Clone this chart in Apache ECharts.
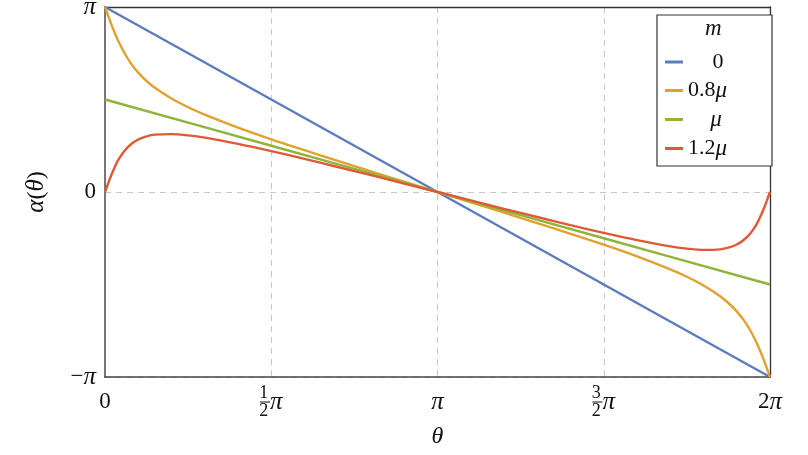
<!DOCTYPE html>
<html>
<head>
<meta charset="utf-8">
<script src="https://cdn.jsdelivr.net/npm/echarts@6/dist/echarts.min.js"></script>
<style>html,body{margin:0;padding:0;background:#fff}#c{width:808px;height:455px}</style>
</head>
<body>
<div id="c"></div>
<script>
// theta in units of pi, alpha in units of pi
const thetaCurve = [0,0.01,0.02,0.03,0.04,0.06,0.08,0.1,0.125,0.15,0.2,0.25,0.3,0.4,0.5,0.6,0.7,0.8,0.9,1,
  1.1,1.2,1.3,1.4,1.5,1.6,1.7,1.75,1.8,1.85,1.875,1.9,1.92,1.94,1.96,1.97,1.98,1.99,2];
const alpha08 = [1,0.950,0.902,0.857,0.816,0.746,0.690,0.645,0.600,0.563,0.505,0.458,0.418,0.348,0.285,0.226,0.168,0.111,0.056,0,
  -0.056,-0.111,-0.168,-0.226,-0.285,-0.348,-0.418,-0.458,-0.505,-0.563,-0.600,-0.645,-0.690,-0.746,-0.816,-0.857,-0.902,-0.950,-1];
const alpha12 = [0,0.049,0.096,0.137,0.173,0.226,0.261,0.284,0.301,0.310,0.313,0.306,0.294,0.260,0.221,0.179,0.135,0.091,0.045,0,
  -0.045,-0.091,-0.135,-0.179,-0.221,-0.260,-0.294,-0.306,-0.313,-0.310,-0.301,-0.284,-0.261,-0.226,-0.173,-0.137,-0.096,-0.049,0];
const thetaLine = [0,0.5,1,1.5,2];
const alpha0 = [1,0.5,0,-0.5,-1];
const alpha10 = [0.5,0.25,0,-0.25,-0.5];
const seriesNames = ['0','0.8μ','μ','1.2μ'];
const xTickValues = [0,0.5,1,1.5,2];
const xTickLabels = ['0','1/2π','π','3/2π','2π'];
const yTickValues = [-1,0,1];
const yTickLabels = ['−π','0','π'];

const colors = ['#5b7cbd','#e0a12e','#8fb33b','#de5a37'];
const serif = '"Liberation Serif","DejaVu Serif",serif';

function zip(xs, ys){ return xs.map((x,i)=>[x, ys[i]]); }

function fmtLabel(s){
  if (s.indexOf('/') >= 0) {
    const num = s.split('/')[0];
    const den = s.split('/')[1].replace('π','');
    return '{num|' + num + '}{gap| }\n{bar| }{pi|π}\n{num|' + den + '}{gap| }';
  }
  return '{plain|' + s.replace('π','') + '}' + (s.indexOf('π')>=0 ? '{pil|π}' : '');
}

const richX = {
  num: {fontFamily: serif, fontSize: 18, lineHeight: 14, color:'#111'},
  gap: {width: 15, fontSize: 10, lineHeight: 14},
  bar: {width: 10, height: 1, backgroundColor: '#111', lineHeight: 4, fontSize: 4},
  pi: {fontFamily: serif, fontStyle: 'italic', fontSize: 25, lineHeight: 4, color:'#111'},
  plain: {fontFamily: serif, fontSize: 23, lineHeight: 32, color:'#111'},
  pil: {fontFamily: serif, fontStyle: 'italic', fontSize: 25, lineHeight: 32, color:'#111'}
};
const richY = {
  plain: {fontFamily: serif, fontSize: 23, color:'#111'},
  pil: {fontFamily: serif, fontStyle: 'italic', fontSize: 25, color:'#111'}
};

const chart = echarts.init(document.getElementById('c'), null, {renderer:'canvas'});
const lineSeries = [
  {name: seriesNames[0], data: zip(thetaLine, alpha0)},
  {name: seriesNames[1], data: zip(thetaCurve, alpha08)},
  {name: seriesNames[2], data: zip(thetaLine, alpha10)},
  {name: seriesNames[3], data: zip(thetaCurve, alpha12)}
].map((s,i)=>({
  type:'line', name:s.name, data:s.data, showSymbol:false, smooth:0.35,
  lineStyle:{color:colors[i], width:2.4}, itemStyle:{color:colors[i]}, z: 3+i
}));

function legendFmt(name){
  if (name === 'μ') return '{mc|μ}';
  if (name.indexOf('μ')>=0) return '{n|' + name.replace('μ','') + '}{m|μ}';
  return '{c|' + name + '}';
}

const frameAxis = {show:true, axisLine:{show:true, onZero:false, lineStyle:{color:'#333', width:1.3}},
  axisTick:{show:false}, axisLabel:{show:false}, splitLine:{show:false}};

chart.setOption({
  animation:false,
  color: colors,
  grid:{left:105, right:38, top:7, bottom:78, outerBoundsMode:'none', containLabel:false},
  xAxis:[{
    type:'value', min:0, max:2, interval:0.5,
    axisLine:{show:true, onZero:false, lineStyle:{color:'#444', width:1.5}},
    axisTick:{show:false},
    splitLine:{show:true, lineStyle:{color:'#c8c8c8', type:[6,5], width:1}},
    axisLabel:{margin:9, formatter:function(v){ const i = xTickValues.indexOf(v); return i>=0 ? fmtLabel(xTickLabels[i]) : ''; }, rich: richX},
    name:'θ', nameLocation:'middle', nameGap:48,
    nameTextStyle:{fontFamily:serif, fontStyle:'italic', fontSize:24, color:'#111'}
  }, Object.assign({type:'value', min:0, max:2, position:'top'}, frameAxis)],
  yAxis:[{
    type:'value', min:-1, max:1, interval:1,
    axisLine:{show:true, onZero:false, lineStyle:{color:'#777', width:2}},
    axisTick:{show:false},
    splitLine:{show:true, lineStyle:{color:'#c8c8c8', type:[6,5], width:1}},
    axisLabel:{margin:9, formatter:function(v){ const i = yTickValues.indexOf(v); return i>=0 ? fmtLabel(yTickLabels[i]) : ''; }, rich: richY},
    name:'{i|α}({i|θ})', nameLocation:'middle', nameGap:56, nameRotate:90,
    nameTextStyle:{fontFamily:serif, fontSize:24, color:'#111', rich:{i:{fontFamily:serif, fontStyle:'italic', fontSize:25, color:'#111'}}}
  }, Object.assign({type:'value', min:-1, max:1, position:'right'}, frameAxis)],
  legend:{
    left:657, top:15, orient:'vertical', data: seriesNames,
    padding:[36, 24, 6, 8], itemGap:6, itemWidth:18, itemHeight:3, icon:'rect',
    borderColor:'#333', borderWidth:1.2, backgroundColor:'#fff',
    formatter: legendFmt,
    textStyle:{fontFamily:serif, fontSize:22, color:'#111', lineHeight:22,
      rich:{
        c:{fontFamily:serif, fontSize:22, width:60, align:'center', color:'#111', lineHeight:22},
        mc:{fontFamily:serif, fontStyle:'italic', fontSize:23, width:56, align:'center', color:'#111', lineHeight:22},
        n:{fontFamily:serif, fontSize:22, color:'#111', lineHeight:22},
        m:{fontFamily:serif, fontStyle:'italic', fontSize:23, color:'#111', lineHeight:22}
      }}
  },
  graphic:[{type:'text', left:705, top:17, z:100, style:{text:'m', fontFamily:serif, fontStyle:'italic', fontSize:23, fill:'#111'}}],
  series: lineSeries
});
</script>
</body>
</html>
